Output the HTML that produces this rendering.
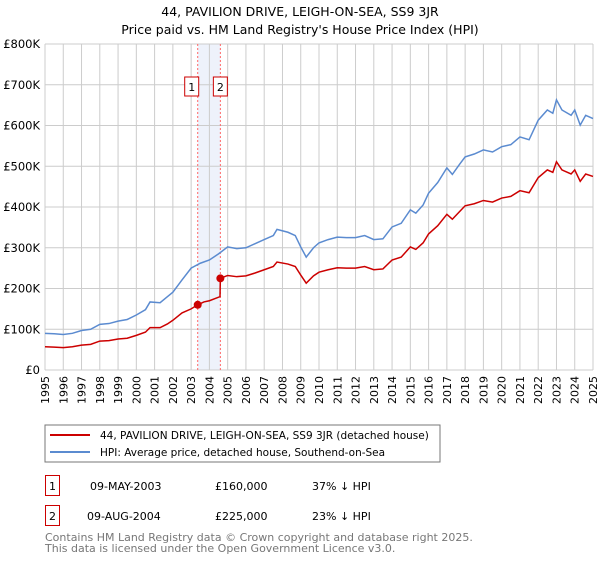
<!DOCTYPE html>
<html><head><meta charset="utf-8"><style>
body{margin:0;background:#fff;font-family:"DejaVu Sans","Liberation Sans",sans-serif;}
</style></head><body>
<svg width="600" height="560" xmlns="http://www.w3.org/2000/svg" font-family="DejaVu Sans, Liberation Sans, sans-serif">
<text x="300" y="16" text-anchor="middle" font-size="12.5">44, PAVILION DRIVE, LEIGH-ON-SEA, SS9 3JR</text>
<text x="300" y="34" text-anchor="middle" font-size="12.5">Price paid vs. HM Land Registry's House Price Index (HPI)</text>
<g id="grid"></g>
<g id="axes"></g>
<g id="series"></g>
<rect x="45" y="425" width="395" height="37" fill="#fff" stroke="#777"/>
<line x1="50" y1="435" x2="90" y2="435" stroke="#cc0000" stroke-width="2"/>
<text x="100" y="439" font-size="10.5">44, PAVILION DRIVE, LEIGH-ON-SEA, SS9 3JR (detached house)</text>
<line x1="50" y1="452" x2="90" y2="452" stroke="#5b8bd0" stroke-width="2"/>
<text x="100" y="456" font-size="10.5">HPI: Average price, detached house, Southend-on-Sea</text>
<g font-size="11">
<rect x="45.5" y="475.5" width="14" height="20" fill="#fff" stroke="#cc0000"/>
<text x="52.5" y="490" text-anchor="middle">1</text>
<text x="90" y="490">09-MAY-2003</text>
<text x="215" y="490">£160,000</text>
<text x="312" y="490">37% ↓ HPI</text>
<rect x="45.5" y="505.5" width="14" height="20" fill="#fff" stroke="#cc0000"/>
<text x="52.5" y="520" text-anchor="middle">2</text>
<text x="87" y="520">09-AUG-2004</text>
<text x="215" y="520">£225,000</text>
<text x="312" y="520">23% ↓ HPI</text>
</g>
<text x="45" y="541" font-size="11" fill="#777">Contains HM Land Registry data © Crown copyright and database right 2025.</text>
<text x="45" y="552" font-size="11" fill="#777">This data is licensed under the Open Government Licence v3.0.</text>
</svg>
<script>
const years=[1995,1996,1997,1998,1999,2000,2001,2002,2003,2004,2005,2006,2007,2008,2009,2010,2011,2012,2013,2014,2015,2016,2017,2018,2019,2020,2021,2022,2023,2024,2025];
const yTicks=[0,100,200,300,400,500,600,700,800];
const yTickLabels=["£0","£100K","£200K","£300K","£400K","£500K","£600K","£700K","£800K"];
const hpiT=[1995,1995.5,1996,1996.5,1997,1997.5,1998,1998.5,1999,1999.5,2000,2000.5,2000.75,2001.3,2001.7,2002,2002.5,2003,2003.5,2004,2004.5,2005,2005.5,2006,2006.5,2007,2007.5,2007.7,2008.3,2008.7,2009,2009.3,2009.7,2010,2010.5,2011,2011.5,2012,2012.5,2013,2013.5,2014,2014.5,2015,2015.3,2015.7,2016,2016.5,2017,2017.3,2017.7,2018,2018.5,2019,2019.5,2020,2020.5,2021,2021.5,2022,2022.5,2022.8,2023,2023.3,2023.8,2024,2024.3,2024.6,2025];
const hpiV=[90,89,87,90,97,100,112,114,120,124,135,148,167,165,180,191,221,250,262,270,285,302,298,300,310,320,330,345,338,330,302,277,300,312,320,326,325,325,330,320,322,351,360,393,385,405,434,460,496,480,505,523,530,540,535,548,553,572,565,613,638,630,663,638,625,638,601,625,617];
const redT=[1995,1995.5,1996,1996.5,1997,1997.5,1998,1998.5,1999,1999.5,2000,2000.5,2000.75,2001.3,2001.7,2002,2002.5,2003,2003.36,2003.7,2004,2004.58,2004.6,2005,2005.5,2006,2006.5,2007,2007.5,2007.7,2008.3,2008.7,2009,2009.3,2009.7,2010,2010.5,2011,2011.5,2012,2012.5,2013,2013.5,2014,2014.5,2015,2015.3,2015.7,2016,2016.5,2017,2017.3,2017.7,2018,2018.5,2019,2019.5,2020,2020.5,2021,2021.5,2022,2022.5,2022.8,2023,2023.3,2023.8,2024,2024.3,2024.6,2025];
const redV=[57,56,55,57,61,63,71,72,76,78,85,93,104,104,113,122,140,150,160,167,170,180,225,232,229,231,238,246,254,265,260,254,233,213,231,240,246,251,250,250,254,246,248,270,277,302,296,312,334,354,382,370,389,403,408,416,412,422,426,440,435,472,491,485,511,491,481,491,463,481,475];
const sales=[{t:2003.36,v:160,n:"1"},{t:2004.6,v:225,n:"2"}];
const NS="http://www.w3.org/2000/svg";
const X0=45,X1=593,Y0=370,Y1=44;
const xs=t=>X0+(t-1995)/30*(X1-X0);
const ys=v=>Y0-v/800*(Y0-Y1);
function mk(p,tag,a){const e=document.createElementNS(NS,tag);for(const k in a)e.setAttribute(k,a[k]);p.appendChild(e);return e;}
const grid=document.getElementById('grid'),axes=document.getElementById('axes'),ser=document.getElementById('series');
let sh=mk(grid,'rect',{x:xs(sales[0].t),y:Y1,width:xs(sales[1].t)-xs(sales[0].t),height:Y0-Y1,fill:'#eef2fb'});


years.forEach(y=>{const l=mk(grid,'line',{x1:xs(y),x2:xs(y),y1:Y1,y2:Y0,stroke:'#ccc','stroke-width':1});


const t=mk(axes,'text',{x:0,y:0,'font-size':11,'text-anchor':'end',transform:`translate(${xs(y)+4},${Y0+6}) rotate(-90)`});t.textContent=y;

});
yTicks.forEach((v,i)=>{const l=mk(grid,'line',{x1:X0,x2:X1,y1:ys(v),y2:ys(v),stroke:'#ccc','stroke-width':1});


const t=mk(axes,'text',{x:40,y:ys(v)+4,'font-size':11.5,'text-anchor':'end'});t.textContent=yTickLabels[i];

});
sales.forEach(s=>{const l=mk(grid,'line',{x1:xs(s.t),x2:xs(s.t),y1:Y1,y2:Y0,stroke:'#ff6666','stroke-width':1,'stroke-dasharray':'2,2'});


const r=mk(axes,'rect',{x:xs(s.t)+(s.n==="1"?-13:-7),y:77,width:14,height:19,fill:'#fff',stroke:'#cc0000'});


const t=mk(axes,'text',{x:xs(s.t)+(s.n==="1"?-6:0),y:91,'font-size':11,'text-anchor':'middle'});t.textContent=s.n;

});
const hp=mk(ser,'polyline',{points:hpiT.map((t,i)=>xs(t)+','+ys(hpiV[i])).join(' '),fill:'none',stroke:'#5b8bd0','stroke-width':1.5});


const rp=mk(ser,'polyline',{points:redT.map((t,i)=>xs(t)+','+ys(redV[i])).join(' '),fill:'none',stroke:'#cc0000','stroke-width':1.5});


sales.forEach(s=>{const c=mk(ser,'circle',{cx:xs(s.t),cy:ys(s.v),r:4,fill:'#cc0000'});

});
</script>
</body></html>
